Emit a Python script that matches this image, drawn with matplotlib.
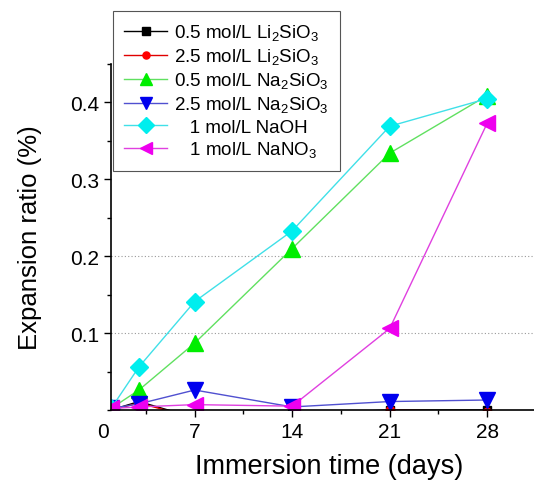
import matplotlib
matplotlib.use("Agg")
import matplotlib.pyplot as plt
from matplotlib.ticker import MultipleLocator

plt.rcParams["font.family"] = ["Liberation Sans", "DejaVu Sans"]
plt.rcParams["mathtext.fontset"] = "custom"
plt.rcParams["mathtext.rm"] = "Liberation Sans"

days = [1, 3, 7, 14, 21, 28]

li_05 = [0.0, 0.011, -0.010, -0.005, 0.0, 0.0]
li_25 = [0.0, 0.009, -0.010, -0.010, 0.0, -0.002]
na2sio3_05 = [0.002, 0.026, 0.087, 0.210, 0.334, 0.409]
na2sio3_25 = [0.002, 0.008, 0.026, 0.004, 0.011, 0.013]
naoh_1 = [0.002, 0.056, 0.141, 0.233, 0.369, 0.405]
nano3_1 = [0.002, 0.004, 0.007, 0.005, 0.106, 0.373]

labels = [
    "0.5 mol/L Li$_2$SiO$_3$",
    "2.5 mol/L Li$_2$SiO$_3$",
    "0.5 mol/L Na$_2$SiO$_3$",
    "2.5 mol/L Na$_2$SiO$_3$",
    "   1 mol/L NaOH",
    "   1 mol/L NaNO$_3$",
]
series = [li_05, li_25, na2sio3_05, na2sio3_25, naoh_1, nano3_1]
line_colors = ["black", "#e00000", "#60e060", "#5050d0", "#40e0e8", "#e040e0"]
marker_colors = ["black", "#ff0000", "#00ee00", "#0000ee", "#00eeee", "#ee00ee"]
markers = ["s", "o", "^", "v", "D", "<"]
sizes = [6, 6, 11, 11, 9, 11]

fig = plt.figure(figsize=(5.34, 4.89), dpi=100)
ax = fig.add_axes([0.208, 0.1595, 0.792, 0.7076])

for vals, lab, lc, mc, m, ms in zip(series, labels, line_colors, marker_colors, markers, sizes):
    ax.plot(days, vals, color=lc, linewidth=1.0, marker=m, markersize=ms,
            markerfacecolor=mc, markeredgecolor=mc, label=lab)

for v in [0.1, 0.2]:
    ax.axhline(v, color="#999999", linestyle=(0, (1, 2)), linewidth=0.8, zorder=0)

ax.set_xlim(1.0, 31.36)
ax.set_ylim(0, 0.45)
ax.xaxis.set_major_locator(MultipleLocator(7))
ax.xaxis.set_minor_locator(MultipleLocator(3.5))
ax.set_yticks([0.1, 0.2, 0.3, 0.4])
ax.set_yticklabels(["0.1", "0.2", "0.3", "0.4"])
ax.yaxis.set_minor_locator(MultipleLocator(0.05))
ax.tick_params(axis="both", which="major", labelsize=15, length=5, width=1, direction="out")
ax.tick_params(axis="both", which="minor", length=3, width=1, direction="out")
ax.text(0.45, -0.035, "0", transform=ax.get_xaxis_transform(), fontsize=15,
        ha="center", va="top")

ax.spines["top"].set_visible(False)
ax.spines["right"].set_visible(False)
ax.spines["left"].set_linewidth(1.2)
ax.spines["bottom"].set_linewidth(1.2)

ax.set_xlabel("Immersion time (days)", fontsize=19.5)
ax.xaxis.set_label_coords(0.515, -0.125)
ax.set_ylabel("Expansion ratio (%)", fontsize=18.5, labelpad=20)

leg = ax.legend(loc="upper left", bbox_to_anchor=(0.2116, 0.9755), bbox_transform=fig.transFigure,
                borderaxespad=0, fontsize=13.5, markerscale=0.85, handlelength=2.3,
                handletextpad=0.35, borderpad=0.6, labelspacing=0.2,
                fancybox=False, framealpha=1, edgecolor="#555555")
leg.get_frame().set_linewidth(0.8)

fig.savefig("out.png", dpi=100)
